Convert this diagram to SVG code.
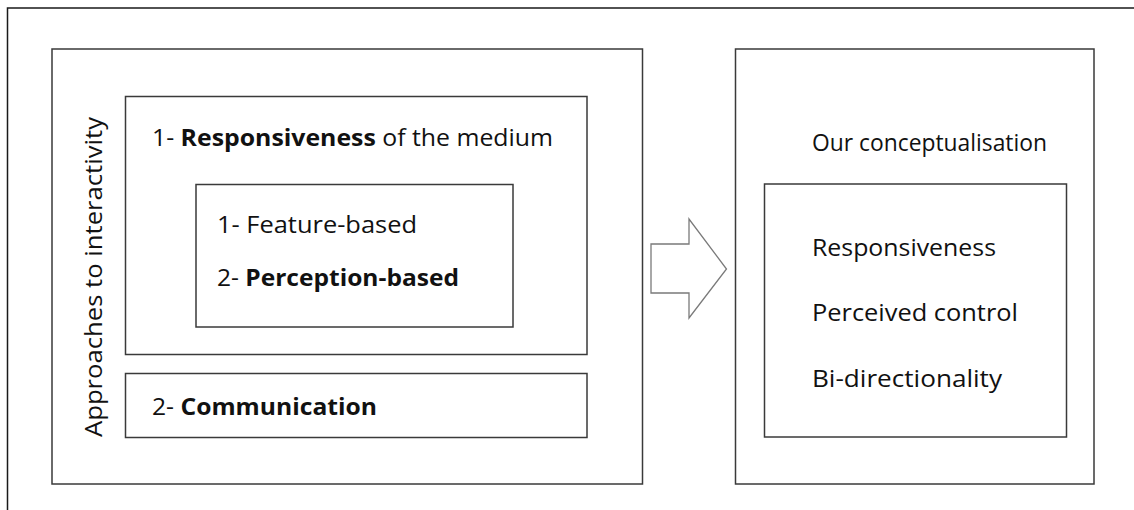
<svg xmlns="http://www.w3.org/2000/svg" width="1134" height="510" viewBox="0 0 1134 510">
<style>
.frame{fill:none;stroke:#1a1a1a;stroke-width:1.5}
.box{fill:#fff;stroke:#3a3a3a;stroke-width:1.5}
.t{font-family:"Open Sans","Liberation Sans",sans-serif;font-size:23px;fill:#111}
.b{font-weight:bold}
.arrow{fill:#fff;stroke:#7a7a7a;stroke-width:1.3}
</style>
<rect width="1134" height="510" fill="#fff"/>
<path class="frame" d="M7.5,510 V8 H1134"/>
<g id="approaches">
<rect class="box" x="52" y="49" width="590.5" height="435"/>
<text class="t" transform="translate(102,437) rotate(-90)" textLength="320" lengthAdjust="spacingAndGlyphs">Approaches to interactivity</text>
</g>
<g id="responsiveness">
<rect class="box" x="125.5" y="96.5" width="461.5" height="258"/>
<text class="t" x="152" y="146" textLength="401" lengthAdjust="spacingAndGlyphs">1- <tspan class="b">Responsiveness</tspan> of the medium</text>
</g>
<g id="feature">
<rect class="box" x="196" y="184.5" width="317" height="142.5"/>
<text class="t" x="217" y="233" textLength="200" lengthAdjust="spacingAndGlyphs">1- Feature-based</text>
<text class="t" x="217" y="286" textLength="242" lengthAdjust="spacingAndGlyphs">2- <tspan class="b">Perception-based</tspan></text>
</g>
<g id="communication">
<rect class="box" x="125.5" y="373.5" width="461.5" height="64"/>
<text class="t" x="152" y="415" textLength="225" lengthAdjust="spacingAndGlyphs">2- <tspan class="b">Communication</tspan></text>
</g>
<g id="connectors">
<path class="arrow" d="M651,244 H689 V219 L726.5,269 L689,318 V293 H651 Z"/>
</g>
<g id="conceptualisation">
<rect class="box" x="735.5" y="49" width="358.5" height="435"/>
<text class="t" x="812" y="151" textLength="235" lengthAdjust="spacingAndGlyphs">Our conceptualisation</text>
</g>
<g id="dimensions">
<rect class="box" x="764.5" y="184" width="302" height="253"/>
<text class="t" x="812" y="256" textLength="184" lengthAdjust="spacingAndGlyphs">Responsiveness</text>
<text class="t" x="812" y="321" textLength="206" lengthAdjust="spacingAndGlyphs">Perceived control</text>
<text class="t" x="812" y="387" textLength="190" lengthAdjust="spacingAndGlyphs">Bi-directionality</text>
</g>
</svg>
